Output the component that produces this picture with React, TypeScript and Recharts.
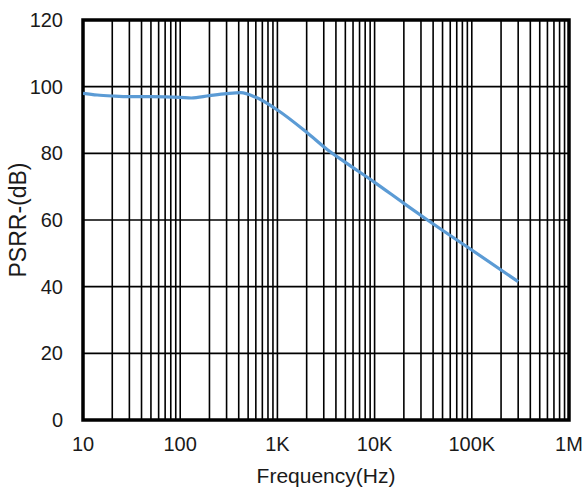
import React from 'react';
import { LineChart, Line, XAxis, YAxis, CartesianGrid, ReferenceArea } from 'recharts';

const frequencies = [10, 14, 20, 30, 50, 100, 130, 200, 300, 420, 600, 1000, 2000, 3300, 5000, 10000, 20000, 35000, 100000, 300000];
const psrrValues = [98, 97.5, 97.2, 97.0, 97.0, 96.8, 96.6, 97.3, 97.9, 98.2, 96.8, 93, 86.3, 81, 77.3, 71.3, 65, 60, 51, 41.5];

const xGridTicks = [
  10, 20, 30, 40, 50, 60, 70, 80, 90,
  100, 200, 300, 400, 500, 600, 700, 800, 900,
  1000, 2000, 3000, 4000, 5000, 6000, 7000, 8000, 9000,
  10000, 20000, 30000, 40000, 50000, 60000, 70000, 80000, 90000,
  100000, 200000, 300000, 400000, 500000, 600000, 700000, 800000, 900000,
  1000000,
];
const xLabels: Record<number, string> = { 10: '10', 100: '100', 1000: '1K', 10000: '10K', 100000: '100K', 1000000: '1M' };
const yTicks = [0, 20, 40, 60, 80, 100, 120];

const data = frequencies.map((f, i) => ({ f, v: psrrValues[i] }));

const font = '"Liberation Sans", Arial, sans-serif';

export default function App() {
  return (
    <div style={{ position: 'absolute', left: 0, top: 0 }}>
      <LineChart width={583} height={488} data={data} margin={{ top: 20, right: 14, left: 0, bottom: 0 }}>
        <CartesianGrid stroke="#000" strokeWidth={1.6} fill="none" />
        <XAxis
          dataKey="f"
          type="number"
          scale="log"
          domain={[10, 1000000]}
          ticks={xGridTicks}
          interval={0}
          allowDataOverflow
          tickFormatter={(v: number) => xLabels[v] ?? ''}
          tickLine={false}
          axisLine={false}
          tickSize={0}
          tickMargin={17}
          height={68}
          tick={{ fill: '#1a1a1a', fontSize: 20, fontFamily: font }}
          label={{ value: 'Frequency(Hz)', position: 'insideBottom', offset: 5, fill: '#1a1a1a', fontSize: 21, fontFamily: font }}
        />
        <YAxis
          type="number"
          domain={[0, 120]}
          ticks={yTicks}
          interval={0}
          tickLine={false}
          axisLine={false}
          tickSize={0}
          tickMargin={20}
          width={83}
          tick={{ fill: '#1a1a1a', fontSize: 20, fontFamily: font }}
          label={{ value: 'PSRR-(dB)', angle: -90, position: 'insideLeft', offset: 18, fill: '#1a1a1a', fontSize: 23, fontFamily: font, style: { textAnchor: 'middle' } }}
        />
        <ReferenceArea x1={10} x2={1000000} y1={0} y2={120} fill="none" stroke="#000" strokeWidth={3.5} ifOverflow="visible" />
        <Line
          type="monotone"
          dataKey="v"
          stroke="#5B9BD5"
          strokeWidth={3.2}
          dot={false}
          isAnimationActive={false}
        />
      </LineChart>
    </div>
  );
}
